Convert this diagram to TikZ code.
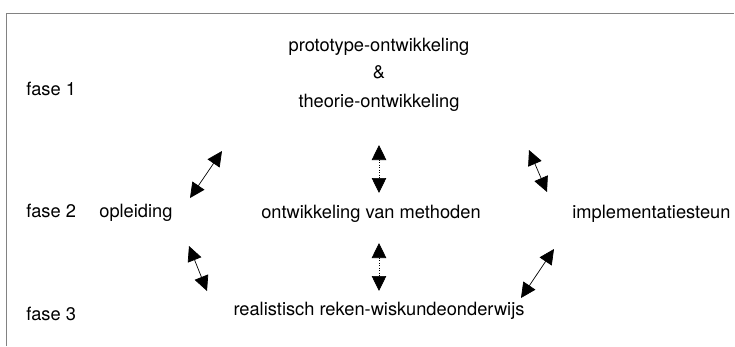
\documentclass[tikz,border=0pt]{standalone}
\usepackage{fontspec}
\setmainfont{TeX Gyre Heros}
\usetikzlibrary{arrows.meta}
\definecolor{FrameGray}{RGB}{130,130,130}

\begin{document}
\begin{tikzpicture}[x=0.02cm, y=-0.02cm,
    lbl/.style={inner sep=0pt, font=\fontsize{10.4}{12}\selectfont,
        text height=0.75em, text depth=0.2em},
    twoway/.style={{Triangle[length=0.3cm,width=0.29cm]}-{Triangle[length=0.3cm,width=0.29cm]}, line width=0.4pt},
    dotway/.style={twoway, densely dotted}]
    \useasboundingbox (0,0) rectangle (735,346);
    % Frame
    \draw[FrameGray, line width=0.5pt] (6,346) -- (6,13) -- (734,13);
    % Phase labels
    \node[lbl, anchor=west] (f1) at (26,91) {fase 1};
    \node[lbl, anchor=west] (f2) at (26,213) {fase 2};
    \node[lbl, anchor=west] (f3) at (26,316) {fase 3};
    % Draw nodes
    \node[lbl] (proto) at (379,47) {prototype-ontwikkeling};
    \node[lbl] (amp) at (379,74) {\&};
    \node[lbl] (theo) at (379,103) {theorie-ontwikkeling};
    \node[lbl, anchor=west] (opl) at (99,213) {opleiding};
    \node[lbl] (meth) at (371,214) {ontwikkeling van methoden};
    \node[lbl, anchor=west] (impl) at (572,214) {implementatiesteun};
    \node[lbl] (rwo) at (379,311) {realistisch reken-wiskundeonderwijs};
    % Arrow ends
    \coordinate (ul1) at (222,151);
    \coordinate (ul2) at (190,198);
    \coordinate (uc1) at (379,145);
    \coordinate (uc2) at (379,193);
    \coordinate (ur1) at (529,150);
    \coordinate (ur2) at (547,192);
    \coordinate (ll1) at (189,246);
    \coordinate (ll2) at (207,291);
    \coordinate (lc1) at (379,243);
    \coordinate (lc2) at (379,291);
    \coordinate (lr1) at (554,249);
    \coordinate (lr2) at (521,298);
    % Draw two-way links
    \draw[twoway] (ul1) -- (ul2);
    \draw[dotway] (uc1) -- (uc2);
    \draw[twoway] (ur1) -- (ur2);
    \draw[twoway] (ll1) -- (ll2);
    \draw[dotway] (lc1) -- (lc2);
    \draw[twoway] (lr1) -- (lr2);
\end{tikzpicture}
\end{document}
